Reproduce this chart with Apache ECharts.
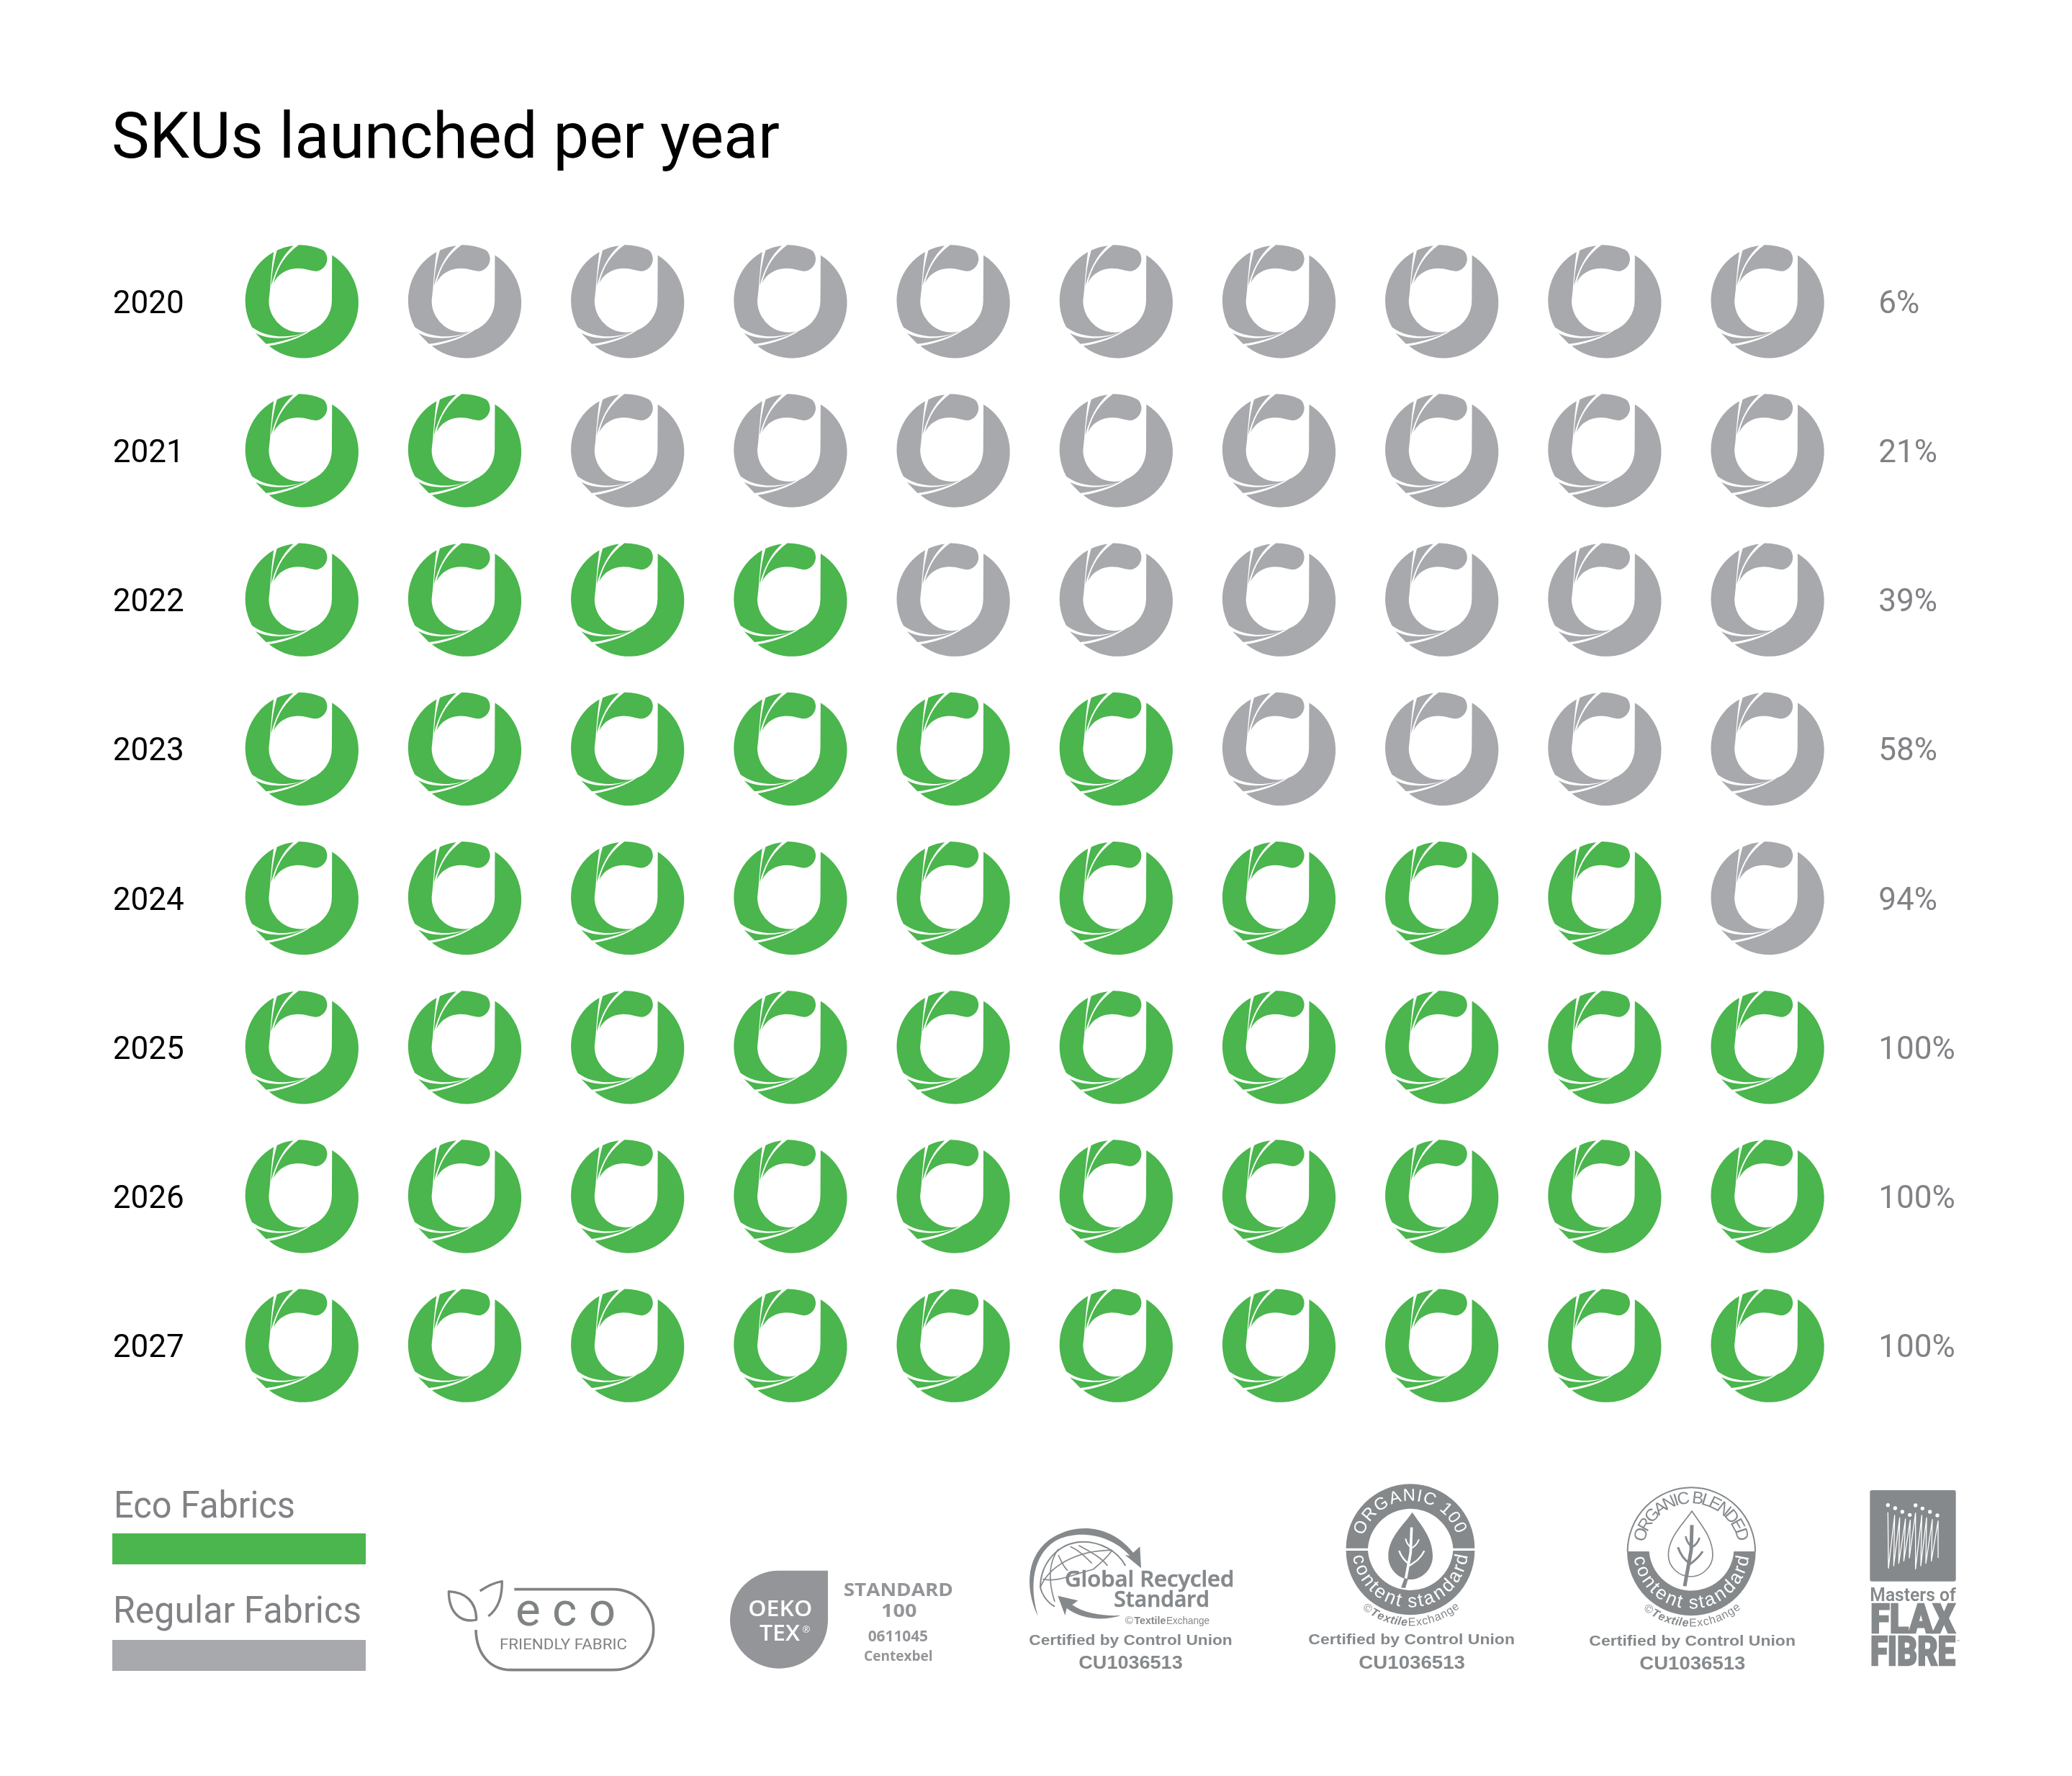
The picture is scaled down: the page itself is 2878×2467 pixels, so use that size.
<!DOCTYPE html>
<html>
<head>
<meta charset="utf-8">
<style>html,body{margin:0;padding:0;background:#fff}#c{width:2878px;height:2467px}</style>
<script src="https://cdn.jsdelivr.net/npm/echarts@6/dist/echarts.min.js"></script>
</head>
<body>
<div id="c"></div>
<script>
const titleText = 'SKUs launched per year';
const years = ['2020','2021','2022','2023','2024','2025','2026','2027'];
const ecoSharePct = [6,21,39,58,94,100,100,100];
const ecoIcons = [1,2,4,6,9,10,10,10];
const iconSlots = ['1','2','3','4','5','6','7','8','9','10'];
const legendNames = ['Eco Fabrics','Regular Fabrics'];
const certLine = 'Certified by Control Union';
const certCode = 'CU1036513';

const GREEN='#4AB64D', GREY='#A7A9AC', LABEL='#808285', LOGO='#85898C', OEKO='#939598';

const ICON='path://M388,59 A236,236 0 1 1 118,445 C190,432 250,412 300,378 A135,135 0 0 0 387,252 Z '+
 'M60,390 C120,420 210,420 290,380 C230,412 170,428 105,436 Z '+
 'M138,45 A236,236 0 0 0 45,365 C110,413 210,415 285,382 L270,386 A135,135 0 0 1 117,252 L122,205 C128,130 132,85 138,45 Z '+
 'M152,38 A236,236 0 0 1 222,18 C175,60 145,120 127,190 C130,130 140,80 152,38 Z '+
 'M245,15 A236,236 0 0 1 345,35 C360,42 367,60 367,75 C367,105 340,127 318,127 C300,127 275,115 240,115 C195,115 155,140 137,178 C155,105 190,55 245,15 Z';

const meas=document.createElement('canvas').getContext('2d');
function T(text,x,base,size,o){
  o=o||{};
  const font=(o.italic?'italic ':'')+(o.weight||400)+' '+size+'px "'+(o.family||'Roboto')+'"';
  meas.font=font;
  const w=meas.measureText(text).width;
  const style={text:text,font:font,fill:o.fill||LOGO,textAlign:o.align||'left',textVerticalAlign:'middle'};
  if(o.bold){style.stroke=o.fill||LOGO;style.lineWidth=o.bold;}
  return {type:'text',x:x,y:base-size*0.345,scaleX:o.w?o.w/w:1,silent:true,style:style};
}
function arcText(segs,cx,cy,r,a0,a1,size,fill,bottom){
  const chars=[];let adv=0;
  segs.forEach(function(s){
    const font=(s.italic?'italic ':'')+(s.weight||400)+' '+size+'px "'+(s.family||'Liberation Sans')+'"';
    meas.font=font;
    s.text.split('').forEach(function(ch){
      const w=meas.measureText(ch).width;
      chars.push({ch:ch,font:font,pos:adv+w/2});adv+=w;
    });
  });
  const p0=chars[0].pos,pn=chars[chars.length-1].pos,out=[];
  chars.forEach(function(c){
    if(c.ch===' ')return;
    const a=(a0+(c.pos-p0)/(pn-p0)*(a1-a0))*Math.PI/180;
    out.push({type:'text',silent:true,x:cx+r*Math.sin(a),y:bottom?cy+r*Math.cos(a):cy-r*Math.cos(a),rotation:bottom?a:-a,
      style:{text:c.ch,font:c.font,fill:fill,textAlign:'center',textVerticalAlign:'middle'}});
  });
  return out;
}
let shapeId=0;
function PP(d,o){
  o=o||{};
  const name='logoPath'+(shapeId++);
  echarts.graphic.registerShape(name,echarts.graphic.extendPath(d,{}));
  const st=o.stroke?{fill:'none',stroke:o.stroke,lineWidth:o.lw||6,lineCap:o.cap||'butt',lineJoin:'round'}:{fill:o.fill||LOGO};
  return {type:name,silent:true,style:st};
}
function logo(x,y,children){return {type:'group',x:x,y:y,scaleX:1/3,scaleY:1/3,silent:true,children:children};}
const tex=[{text:'©',weight:400},{text:'Textile',weight:700,italic:true},{text:'Exchange',weight:400}];

const ecoLogo=logo(610,2190,[
  PP('M313,53 L725,53 A168,168 0 0 1 725,389 L300,389 C210,389 155,320 153,222',{stroke:'#808384',lw:11}),
  PP('M40,62 C105,65 155,100 155,180 C90,195 40,150 40,62 Z',{stroke:'#808384',lw:10}),
  PP('M170,60 C200,40 230,25 262,20 C262,80 250,130 205,165',{stroke:'#808384',lw:10}),
  T('e c o',318,222,197,{fill:'#808384'}),
  T('FRIENDLY FABRIC',252,308,58,{fill:'#808384',w:531})
]);
const oekoLogo=logo(1000,2170,[
  PP('M450,35 L450,240 C450,355 360,443 246,443 C133,443 42,352 42,240 C42,125 133,35 246,35 Z',{fill:OEKO}),
  T('OEKO',118,230,91,{fill:'#fff',weight:600,w:267,family:'Open Sans'}),
  T('TEX',165,333,91,{fill:'#fff',weight:600,w:168,family:'Open Sans'}),
  T('®',343,296,40,{fill:'#fff',family:'Open Sans'}),
  T('STANDARD',515,145,77,{fill:OEKO,weight:700,w:457,family:'Open Sans'}),
  T('100',672,232,77,{fill:OEKO,weight:700,w:148,family:'Open Sans'}),
  T('0611045',617,335,62,{fill:OEKO,weight:700,w:250,family:'Open Sans'}),
  T('Centexbel',600,415,60,{fill:OEKO,weight:700,w:287,family:'Open Sans'})
]);
const grsLogo=logo(1420,2110,[
  PP('M65,405 C5,280 20,140 130,75 C230,15 370,25 462,140 L490,115 L495,205 L428,150 L448,153 C370,65 240,45 150,85 C60,130 20,250 65,405 Z'),
  PP('M430,195 C395,130 320,95 255,95 C150,95 75,185 75,285 C80,310 100,345 135,365',{stroke:LOGO,lw:6}),
  PP('M75,285 C110,200 220,130 375,130',{stroke:LOGO,lw:5}),
  PP('M85,250 C140,265 200,235 295,210',{stroke:LOGO,lw:5}),
  PP('M150,150 C165,180 170,200 190,215',{stroke:LOGO,lw:5}),
  PP('M200,115 C235,130 260,155 290,185',{stroke:LOGO,lw:5}),
  PP('M150,125 C110,180 105,250 135,345',{stroke:LOGO,lw:5}),
  PP('M235,110 C280,135 330,160 355,195',{stroke:LOGO,lw:5}),
  PP('M375,130 C350,165 320,190 295,210',{stroke:LOGO,lw:5}),
  PP('M148,320 L232,340 L208,358 C260,395 340,405 410,402 C340,425 250,420 185,372 L178,402 Z'),
  T('Global Recycled',177,287,92,{family:'Open Sans',weight:600,w:706,bold:2}),
  T('Standard',382,372,92,{family:'Open Sans',weight:600,w:398,bold:2}),
  T('©',428,442,45,{family:'Liberation Sans'}),
  T('Textile',466,442,45,{family:'Liberation Sans',weight:700,w:132}),
  T('Exchange',600,442,45,{family:'Liberation Sans',w:180}),
  T(certLine,28,530,62,{family:'Liberation Sans',weight:700,w:847}),
  T(certCode,235,630,77,{family:'Liberation Sans',weight:700,w:433})
]);
const leafOuter='M455,122 C420,175 355,225 355,305 C355,360 400,402 447,402 C495,402 540,360 540,305 C540,225 490,175 455,122 Z';
const organicLogo=logo(1810,2060,[
  PP('M179,272 A268,268 0 0 1 715,272 L625,272 A178,178 0 0 0 270,272 Z'),
  PP('M179,282 A268,268 0 0 0 715,282 L625,282 A178,178 0 0 1 270,282 Z'),
  PP(leafOuter),
  PP('M408,436 L422,398 L438,398 L426,438 Z'),
  PP('M452,185 L448,290 L428,398',{stroke:'#fff',lw:11}),
  PP('M427,232 C432,255 440,262 450,268',{stroke:'#fff',lw:6}),
  PP('M483,235 C475,255 465,265 451,272',{stroke:'#fff',lw:6}),
  PP('M400,282 C410,310 425,325 438,335',{stroke:'#fff',lw:7}),
  PP('M505,283 C490,315 465,330 442,345',{stroke:'#fff',lw:7})
].concat(
  arcText([{text:'ORGANIC 100'}],447,277,223,-66,66,72,'#fff',false),
  arcText([{text:'content standard'}],447,277,219,-79,79,78,'#fff',true),
  arcText(tex,447,277,305,-36,38,48,LOGO,true),
  [T(certLine,22,675,62,{family:'Liberation Sans',weight:700,w:860}),
   T(certCode,232,778,77,{family:'Liberation Sans',weight:700,w:443})]
));
const blendedLogo=logo(2200,2060,[
  PP('M180,285 A268,268 0 0 0 716,285 L625,285 A177,177 0 0 1 272,285 Z'),
  PP('M182,285 A266,266 0 0 1 714,285',{stroke:LOGO,lw:6}),
  PP('M450,117 C415,170 352,225 352,300 C352,352 398,390 445,390 C490,390 537,352 537,300 C537,225 485,170 450,117 Z',{stroke:LOGO,lw:5}),
  PP('M450,175 L447,280 L420,430',{stroke:LOGO,lw:15}),
  PP('M424,222 C430,250 440,258 448,265',{stroke:LOGO,lw:8}),
  PP('M482,228 C475,250 465,260 450,268',{stroke:LOGO,lw:8}),
  PP('M392,268 C405,305 422,322 437,332',{stroke:LOGO,lw:9}),
  PP('M495,285 C480,310 460,325 440,340',{stroke:LOGO,lw:9})
].concat(
  arcText([{text:'ORGANIC BLENDED'}],448,283,218,-72,72,72,LOGO,false),
  arcText([{text:'content standard'}],448,283,219,-79,79,78,'#fff',true),
  arcText(tex,448,280,305,-36,38,48,LOGO,true),
  [T(certLine,22,682,62,{family:'Liberation Sans',weight:700,w:860}),
   T(certCode,232,782,77,{family:'Liberation Sans',weight:700,w:441})]
));
const flaxDots=[[97,92],[127,105],[157,120],[188,133],[212,93],[241,106],[272,120],[303,135]].map(function(p){
  return {type:'circle',silent:true,shape:{cx:p[0],cy:p[1],r:8},style:{fill:'#fff'}};
});
const flaxLogo=logo(2590,2060,[
  {type:'rect',silent:true,shape:{x:22,y:30,width:358,height:380,r:8},style:{fill:LOGO}},
  PP('M97,122 L99,355 L125,135 L121,345 L146,145 L142,335 L170,150 L163,325 L190,155 L186,312 L212,125 L212,358 L238,135 L234,345 L258,145 L255,335 L282,152 L278,325 L306,158 L306,312',{stroke:'#fff',lw:4}),
].concat(flaxDots,[
  T('Masters of',22,500,78,{weight:600,w:358}),
  T('FLAX',24,640,168,{weight:900,w:354,bold:7}),
  T('FIBRE',24,775,168,{weight:900,w:354,bold:7}),
  T('™',384,668,18,{weight:700})
]));

const legendEls=[
  T(legendNames[0],158,2113,52,{fill:LABEL,w:252}),
  {type:'rect',silent:true,shape:{x:156,y:2130,width:352,height:43},style:{fill:GREEN}},
  T(legendNames[1],157,2259,52,{fill:LABEL,w:345}),
  {type:'rect',silent:true,shape:{x:156,y:2278,width:352,height:43},style:{fill:GREY}}
];

const ecoData=[],regData=[];
years.forEach(function(y,r){
  iconSlots.forEach(function(s,c){ (c<ecoIcons[r]?ecoData:regData).push([s,y]); });
});
const iconSeries=function(name,data,color){return {
  name:name,type:'scatter',data:data,symbol:ICON,symbolSize:157.3,silent:true,
  itemStyle:{color:color,opacity:1},animation:false
};};

const chart=echarts.init(document.getElementById('c'),null,{renderer:'canvas',width:2878,height:2467,devicePixelRatio:1});
chart.setOption({
  backgroundColor:'#fff',
  animation:false,
  title:{text:titleText,left:155,top:153,padding:0,textStyle:{fontFamily:'Roboto',fontWeight:400,fontSize:88.4,color:'#000'}},
  grid:{left:306.2,top:315.2,width:2262,height:1657.6,containLabel:false},
  xAxis:{type:'category',data:iconSlots,show:false,boundaryGap:true},
  yAxis:[
    {type:'category',data:years,inverse:true,position:'left',boundaryGap:true,
     axisLine:{show:false},axisTick:{show:false},splitLine:{show:false},
     axisLabel:{align:'center',margin:100,verticalAlign:'top',lineHeight:10,fontFamily:'Roboto',fontSize:44,color:'#000',interval:0}},
    {type:'category',data:ecoSharePct.map(function(v){return v+'%';}),inverse:true,position:'right',boundaryGap:true,
     axisLine:{show:false},axisTick:{show:false},splitLine:{show:false},
     axisLabel:{align:'left',margin:41,verticalAlign:'top',lineHeight:10,fontFamily:'Roboto',fontSize:44,color:LABEL,interval:0}}
  ],
  series:[iconSeries(legendNames[0],ecoData,GREEN),iconSeries(legendNames[1],regData,GREY)],
  graphic:{elements:legendEls.concat([ecoLogo,oekoLogo,grsLogo,organicLogo,blendedLogo,flaxLogo])}
});
</script>
</body>
</html>
